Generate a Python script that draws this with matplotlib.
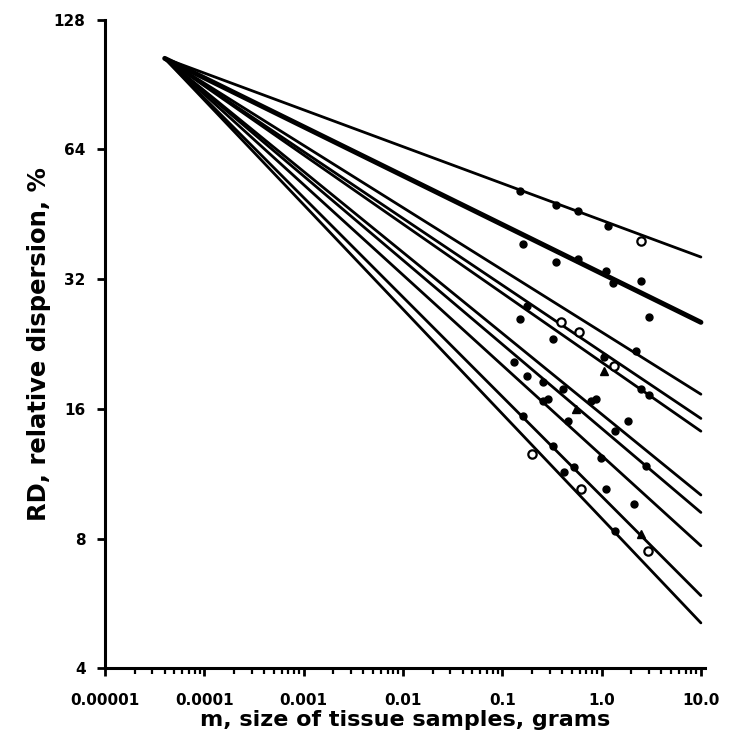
import matplotlib
matplotlib.use("Agg")
import matplotlib.pyplot as plt
from matplotlib.ticker import LogLocator, NullLocator, FixedLocator

# common origin of the fitted lines
origin_m = 4e-5
origin_rd = 104.0

# RD value of each fitted line at m = 10 g
end_m = 10.0
end_rd = [36.0, 25.4, 17.3, 15.2, 14.2, 10.1, 9.2, 7.7, 5.9, 5.1]
line_w = [2.0, 3.6, 2.0, 2.0, 2.0, 2.0, 2.0, 2.0, 2.0, 2.0]

filled_m = [0.152, 0.344, 0.573, 1.149,
            0.163, 0.344, 0.573, 1.097, 1.29, 2.47, 2.98,
            0.179, 0.152, 0.328, 2.20, 1.047, 2.47, 2.98,
            0.130, 0.179, 0.260, 0.405, 0.292, 0.871, 0.260, 0.774,
            1.83, 0.454, 1.38, 0.160, 0.328, 0.977, 2.78, 0.414,
            0.522, 1.097, 2.10, 1.38]
filled_rd = [51.2, 47.5, 46.0, 42.5,
             38.6, 35.0, 35.6, 33.4, 31.3, 31.7, 26.1,
             27.7, 25.8, 23.2, 21.8, 21.1, 17.8, 17.2,
             20.6, 19.1, 18.5, 17.8, 16.9, 16.9, 16.7, 16.7,
             15.0, 15.0, 14.2, 15.4, 13.1, 12.3, 11.8, 11.4,
             11.7, 10.4, 9.6, 8.35]
open_m = [2.47, 0.386, 0.586, 1.32, 0.201, 0.614, 2.91]
open_rd = [39.2, 25.4, 24.1, 20.1, 12.6, 10.4, 7.5]
tri_m = [2.47, 0.55, 1.05]
tri_rd = [8.2, 16.0, 19.6]

x_ticks = [1e-5, 1e-4, 1e-3, 1e-2, 0.1, 1.0, 10.0]
x_labels = ["0.00001", "0.0001", "0.001", "0.01", "0.1", "1.0", "10.0"]
y_ticks = [4, 8, 16, 32, 64, 128]
y_labels = ["4", "8", "16", "32", "64", "128"]

fig = plt.figure(figsize=(7.39, 7.51), dpi=100)
ax = fig.add_axes([0.142, 0.110, 0.812, 0.864])

for rd, w in zip(end_rd, line_w):
    ax.plot([origin_m, end_m], [origin_rd, rd], color="black", lw=w,
            solid_capstyle="round")

ax.plot(filled_m, filled_rd, "o", color="black", ms=5, ls="none")
ax.plot(open_m, open_rd, "o", mfc="white", mec="black", mew=1.6, ms=6, ls="none")
ax.plot(tri_m, tri_rd, "^", color="black", ms=5.5, ls="none")

ax.set_xscale("log")
ax.set_yscale("log", base=2)
ax.set_xlim(1e-5, 11)
ax.set_ylim(4, 128)

ax.xaxis.set_major_locator(FixedLocator(x_ticks))
ax.set_xticklabels(x_labels)
ax.xaxis.set_minor_locator(LogLocator(base=10, subs=range(2, 10)))
ax.yaxis.set_major_locator(FixedLocator(y_ticks))
ax.set_yticklabels(y_labels)
ax.yaxis.set_minor_locator(NullLocator())

for s in ["top", "right"]:
    ax.spines[s].set_visible(False)
for s in ["left", "bottom"]:
    ax.spines[s].set_linewidth(2.2)

ax.tick_params(axis="both", which="major", direction="out", length=6, width=2,
               labelsize=11)
ax.tick_params(axis="x", which="major", pad=12)
ax.tick_params(axis="y", which="major", pad=8)
ax.tick_params(axis="x", which="minor", direction="out", length=4, width=1.6)
for lab in ax.get_xticklabels() + ax.get_yticklabels():
    lab.set_fontweight("bold")

ax.set_xlabel("m, size of tissue samples, grams", fontsize=16, fontweight="bold",
              labelpad=1)
ax.set_ylabel("RD, relative dispersion, %", fontsize=17.5, fontweight="bold",
              labelpad=2)

fig.savefig("out.png", dpi=100)
